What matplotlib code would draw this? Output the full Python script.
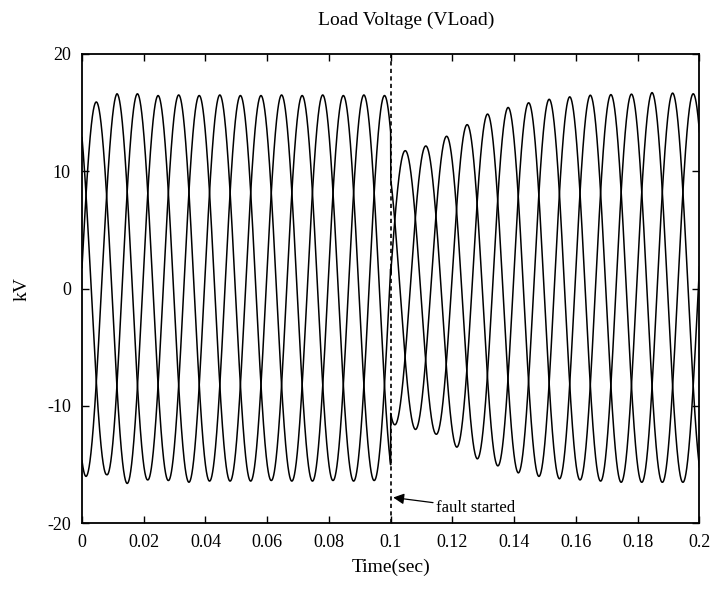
import numpy as np
import matplotlib
matplotlib.use("Agg")
import matplotlib.pyplot as plt
from matplotlib.ticker import FuncFormatter

# three-phase load voltage, 50 Hz, fault at 0.1 s
F_HZ = 50.0
T_FIRST_EXT = 0.00131   # time of the first extremum (a trough)
T_FAULT = 0.1

# magnitude of every extremum (all phases together, trough/peak alternate), kV
pre_fault_kv = [16.0, 15.9, 15.85, 16.6, 16.6, 16.6, 16.3, 16.45, 16.35, 16.5,
                16.5, 16.45, 16.4, 16.5, 16.4, 16.45, 16.4, 16.45, 16.35, 16.5,
                16.4, 16.45, 16.4, 16.5, 16.35, 16.45, 16.4, 16.5, 16.35, 16.45]
post_fault_kv = [11.6, 11.75, 12.0, 12.15, 12.4, 12.97, 13.5, 13.96, 14.5, 14.87,
                 15.1, 15.43, 15.7, 15.83, 16.0, 16.13, 16.2, 16.34, 16.3, 16.48,
                 16.4, 16.53, 16.5, 16.57, 16.5, 16.7, 16.5, 16.66, 16.5, 16.6]

x_ticks = [0, 0.02, 0.04, 0.06, 0.08, 0.1, 0.12, 0.14, 0.16, 0.18, 0.2]
y_ticks = [-20, -10, 0, 10, 20]

plt.rcParams['font.family'] = ['Liberation Serif', 'DejaVu Serif']
plt.rcParams['axes.unicode_minus'] = False

half = 1.0 / (6 * F_HZ)  # spacing between successive extrema of the 3 phases
n_pre = len(pre_fault_kv)
t_pre = T_FIRST_EXT + half * np.arange(n_pre)
t_post = T_FIRST_EXT + half * np.arange(n_pre, n_pre + len(post_fault_kv))

t = np.linspace(0, 0.2, 6001)
env = np.where(t < T_FAULT,
               np.interp(t, t_pre, pre_fault_kv),
               np.interp(t, t_post, post_fault_kv))
t_peak_a = T_FIRST_EXT + half  # first positive peak (phase A)
w = 2 * np.pi * F_HZ

fig = plt.figure(figsize=(7.13, 5.92), dpi=100)
ax = fig.add_axes([0.115, 0.116, 0.866, 0.793])

for i in range(3):
    v = env * np.cos(w * (t - t_peak_a) - 2 * np.pi * i / 3)
    ax.plot(t, v, color='black', lw=1.1)

ax.plot([T_FAULT, T_FAULT], [-20, 20], color='black', lw=1.2, ls=(0, (2.5, 2)))
ax.annotate('fault started', xy=(0.1008, -17.8), xytext=(0.1146, -18.7),
            fontsize=12, ha='left', va='center',
            arrowprops=dict(arrowstyle='-|>', color='black', lw=0.9,
                            mutation_scale=16, shrinkA=0, shrinkB=0))

ax.set_xlim(0, 0.2)
ax.set_ylim(-20, 20)
ax.set_xticks(x_ticks)
ax.set_yticks(y_ticks)
ax.xaxis.set_major_formatter(FuncFormatter(lambda v, p: f"{v:g}"))
ax.tick_params(direction='in', top=True, right=True, length=5, width=1,
               labelsize=13, pad=8)
for s in ax.spines.values():
    s.set_linewidth(1.3)

ax.set_xlabel('Time(sec)', fontsize=14, labelpad=5)
ax.set_ylabel('kV', fontsize=14, labelpad=12)
fig.text(0.57, 0.966, 'Load Voltage (VLoad)', fontsize=14, ha='center', va='center')

fig.savefig('out.png', dpi=100)
